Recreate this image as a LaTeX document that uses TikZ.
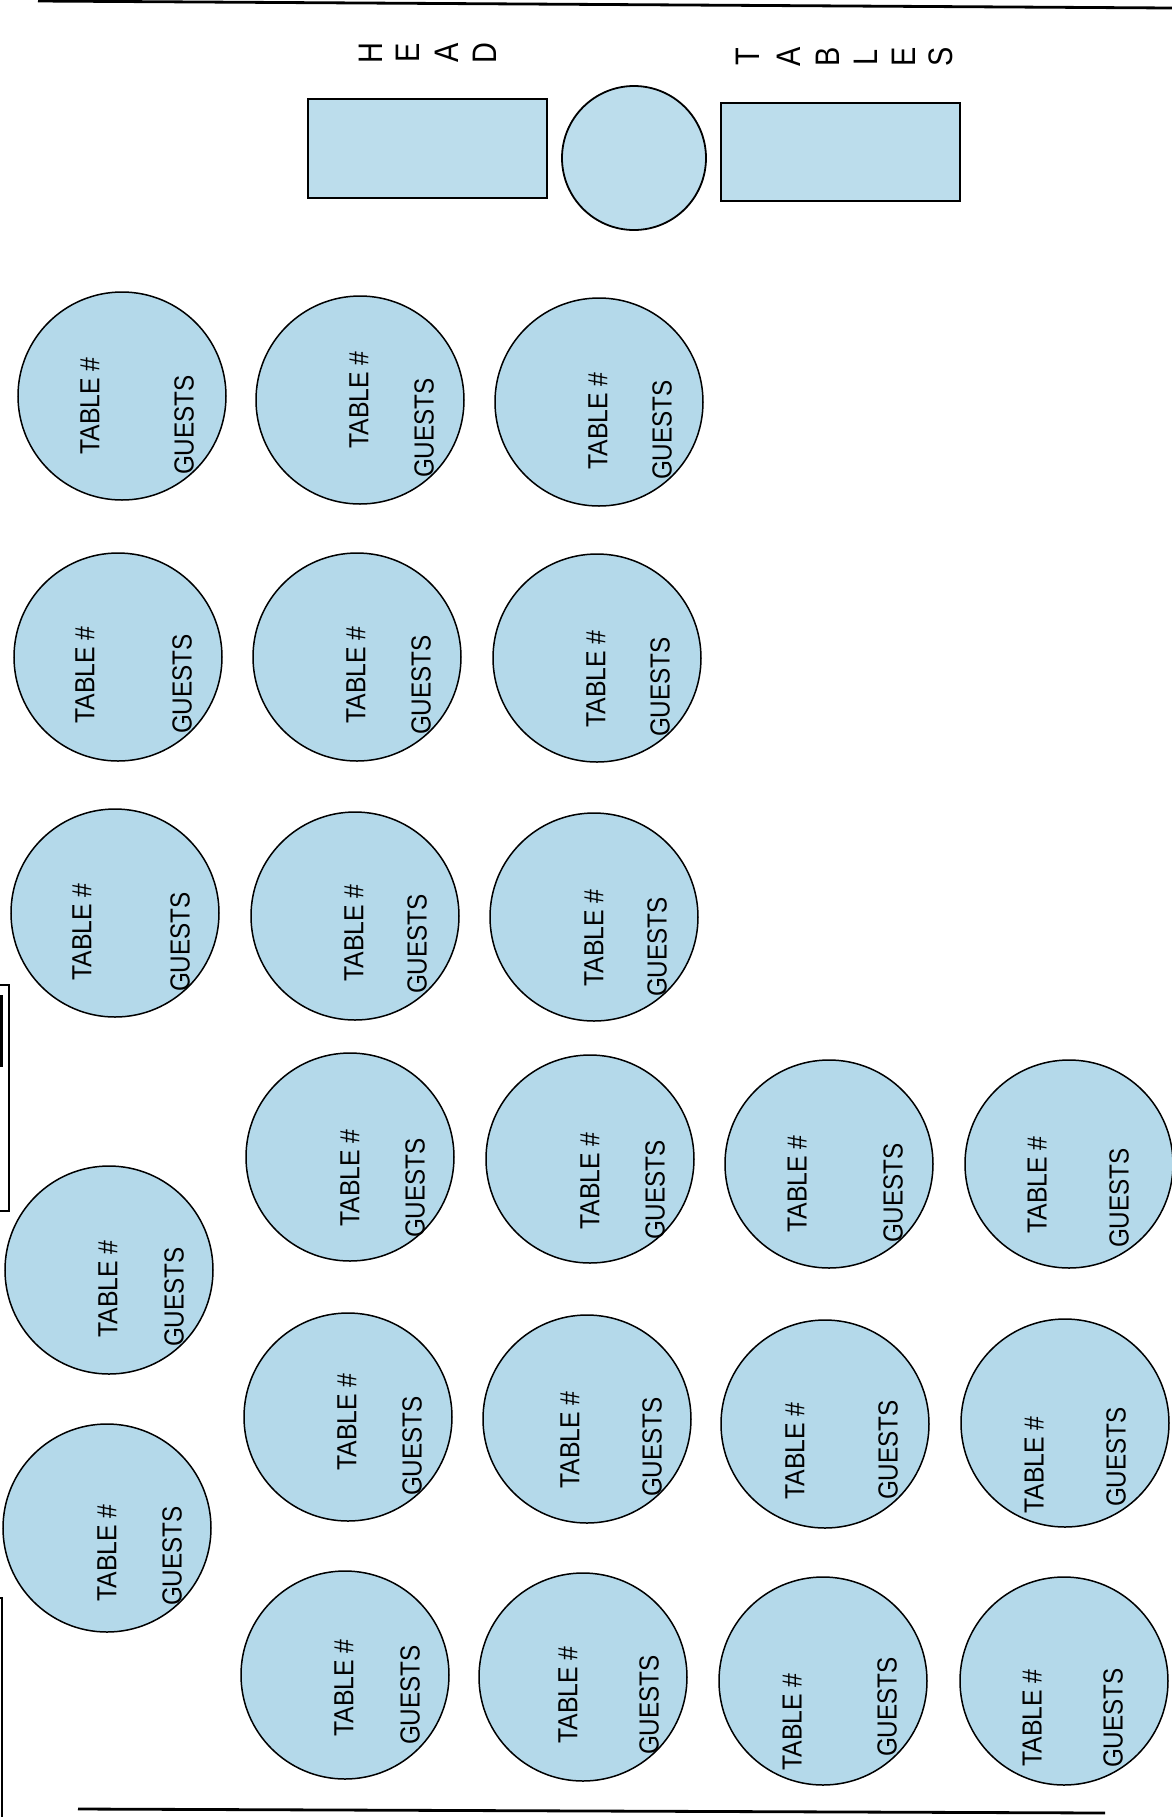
\documentclass[tikz,border=0pt]{standalone}
\usepackage{fontspec}
\setmainfont{Liberation Sans}
\definecolor{tblue}{RGB}{180,217,234}
\definecolor{hblue}{RGB}{188,221,236}
\begin{document}
\begin{tikzpicture}[x=0.5pt,y=-0.5pt,
  tbl/.style={circle, draw=black, line width=0.75pt, fill=tblue, minimum size=104pt, inner sep=0pt},
  lbl/.style={rotate=90, inner sep=0pt, font=\fontsize{13.8}{16}\selectfont},
  hletter/.style={rotate=90, inner sep=0pt, anchor=center, font=\fontsize{17}{20}\selectfont},
  headbox/.style={draw=black, line width=0.9pt, fill=hblue, inner sep=0pt},
  rule/.style={line width=1.4pt},
  edgebox/.style={draw=black, line width=0.8pt}]
\useasboundingbox (0,0) rectangle (1172,1817);
\fill[white] (0,0) rectangle (1172,1817);

% page rules
\coordinate (tl) at (38,1);
\coordinate (tr) at (1172,8);
\draw[rule] (tl) -- (tr);
\coordinate (bl) at (78,1809);
\coordinate (br) at (1105,1813);
\draw[rule] (bl) -- (br);

% left edge fragments
\draw[edgebox] (-10,985) rectangle (9,1211);
\fill[black] (-2,995) rectangle (2.5,1067);
\draw[edgebox] (-10,1598) rectangle (2,1830);

% head tables
\node[headbox, minimum width=119.5pt, minimum height=49.5pt] (hl) at (427.5,148.5) {};
\node[headbox, circle, minimum size=72pt] (hc) at (634,158) {};
\node[headbox, minimum width=119.5pt, minimum height=49pt] (hr) at (840.5,152) {};

% HEAD letters
\foreach \L/\x [count=\i] in {H/371,E/408,A/446.5,D/485}
  \node[hletter] (head\i) at (\x,53) {\scalebox{0.85}[1]{\L}};
% TABLES letters
\foreach \L/\x [count=\i] in {T/748,A/789,B/828,L/866,E/904,S/941}
  \node[hletter] (tables\i) at (\x,57) {\scalebox{0.85}[1]{\L}};

% round tables: number/centre/TABLE # position/GUESTS position
\foreach \n/\cx/\cy/\tx/\ty/\gx/\gy in {
  1/122/396/90/406/184/425,
  2/360/400/359/400/424/428,
  3/599/402/598/421/662/430,
  4/118/657/85/675/182/684,
  5/357/657/356/675/421/685,
  6/597/658/596/679/660/687,
  7/115/913/82/932/180/942,
  8/355/916/354/933/417/944,
  9/594/917/594/938/657/947,
  10/350/1157/350/1178/415/1188,
  11/590/1159/590/1181/655/1190,
  12/829/1164/797/1184/893/1193,
  13/1069/1164/1037/1185/1119/1198,
  14/109/1270/108/1289/174/1297,
  15/348/1417/347/1422/412/1446,
  16/587/1419/570/1440/652/1447,
  17/825/1424/795/1451/888/1450,
  18/1065/1423/1034/1465/1116/1457,
  19/107/1528/107/1553/172/1556,
  20/345/1675/344/1688/410/1695,
  21/583/1677/568/1695/649/1705,
  22/823/1681/792/1722/887/1707,
  23/1064/1681/1032/1718/1113/1718}
{
  \node[tbl] (t\n) at (\cx,\cy) {};
  \node[lbl] (num\n) at (\tx,\ty) {\scalebox{0.9}[1]{TABLE \#}};
  \node[lbl] (gst\n) at (\gx,\gy) {\scalebox{0.88}[1]{GUESTS}};
}
\end{tikzpicture}
\end{document}
